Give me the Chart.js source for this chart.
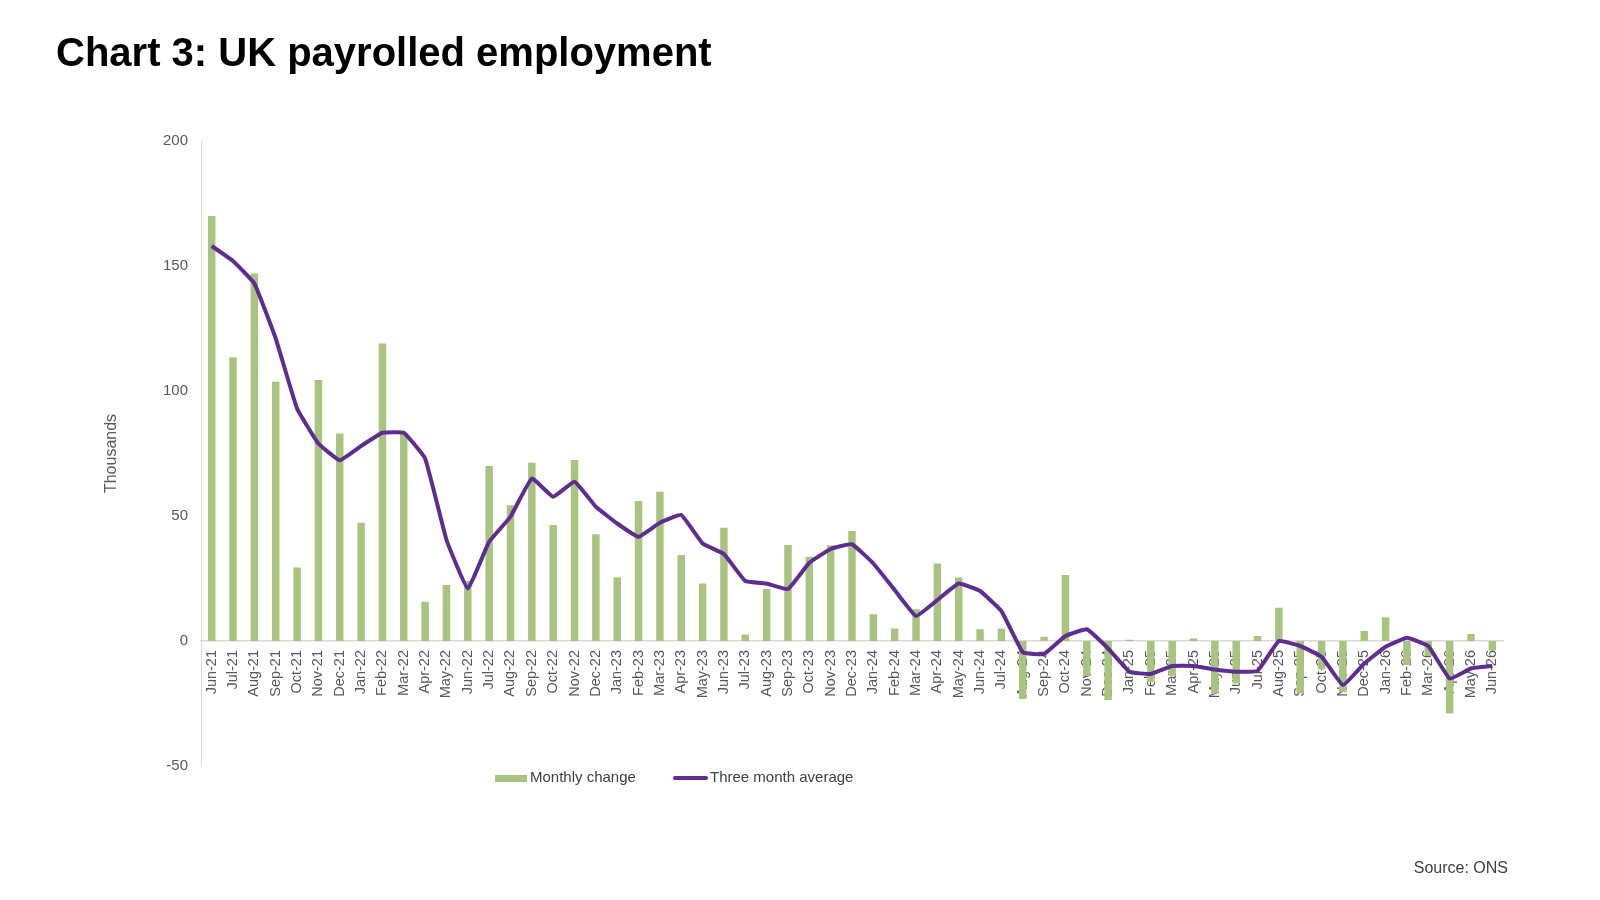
<!DOCTYPE html>
<html>
<head>
<meta charset="utf-8">
<title>Chart 3: UK payrolled employment</title>
<script src="https://cdn.jsdelivr.net/npm/chart.js@4/dist/chart.umd.min.js"></script>
<style>
  body { margin: 0; background: #fff; font-family: "Liberation Sans", Arial, sans-serif; }
  #wrap { position: relative; width: 1600px; height: 900px; overflow: hidden; }
  #chart { position: absolute; left: 0; top: 0; }
  .title { position: absolute; left: 56px; top: 32px; font-size: 40px; line-height: 40px; font-weight: bold; color: #000; white-space: nowrap; }
  .leg { position: absolute; font-size: 15px; line-height: 15px; color: #404040; white-space: nowrap; }
  .swatch { position: absolute; }
  .source { position: absolute; right: 92px; top: 860px; font-size: 16px; line-height: 16px; color: #404040; }
</style>
</head>
<body>
<div id="wrap">
  <canvas id="chart" width="1600" height="900"></canvas>
  <div class="title">Chart 3: UK payrolled employment</div>
  <div class="swatch" id="swBar" style="left:495px; top:775px; width:32px; height:7px;"></div>
  <div class="leg" style="left:530px; top:769px;">Monthly change</div>
  <div class="swatch" id="swLine" style="left:673px; top:776px; width:35px; height:4px; border-radius:2px;"></div>
  <div class="leg" style="left:710px; top:769px;">Three month average</div>
  <div class="source">Source: ONS</div>
</div>
<script>
// months on the x axis
const months = [
  "Jun-21", "Jul-21", "Aug-21", "Sep-21", "Oct-21", "Nov-21", "Dec-21",
  "Jan-22", "Feb-22", "Mar-22", "Apr-22", "May-22", "Jun-22", "Jul-22", "Aug-22", "Sep-22", "Oct-22", "Nov-22", "Dec-22",
  "Jan-23", "Feb-23", "Mar-23", "Apr-23", "May-23", "Jun-23", "Jul-23", "Aug-23", "Sep-23", "Oct-23", "Nov-23", "Dec-23",
  "Jan-24", "Feb-24", "Mar-24", "Apr-24", "May-24", "Jun-24", "Jul-24", "Aug-24", "Sep-24", "Oct-24", "Nov-24", "Dec-24",
  "Jan-25", "Feb-25", "Mar-25", "Apr-25", "May-25", "Jun-25", "Jul-25", "Aug-25", "Sep-25", "Oct-25", "Nov-25", "Dec-25",
  "Jan-26", "Feb-26", "Mar-26", "Apr-26", "May-26", "Jun-26"
];

// monthly change (thousands), bars
const monthlyChange = [
  170, 113.5, 147, 103.7, 29.4, 104.4, 83,
  47.3, 119, 83, 15.7, 22.4, 24, 70, 54.3, 71.3, 46.4, 72.4, 42.7,
  25.5, 56, 59.7, 34.4, 23, 45.3, 2.6, 20.8, 38.4, 33.7, 38.3, 44,
  10.7, 5, 12.7, 31, 25.4, 4.7, 5, -23.2, 1.7, 26.4, -14, -23.6,
  0.5, -16.5, -14, 1, -21, -17, 2, 13.3, -21, -11.3, -20.5, 4,
  9.5, -9.6, -6, -29, 2.8, -3.8
];

// three month average (thousands), line
const threeMonthAvg = [
  158, 152, 143, 121, 93, 79, 72.3,
  78, 83.3, 83.3, 73, 40.5, 21, 39.7, 49.7, 65, 57.7, 63.7, 53.7,
  47, 41.7, 47.3, 50.4, 39, 34.8, 24, 23, 20.8, 31.3, 36.8, 38.7,
  31, 20.4, 10, 16.4, 23, 20, 12, -4.5, -5.2, 2, 4.7, -3,
  -12.3, -13.2, -10, -10, -11.4, -12.3, -11.9, 0, -2, -6.3, -17.6, -9,
  -2.3, 1.3, -2, -15, -11, -10
];

// y axis ticks
const yMin = -50;
const yMax = 200;
const yStep = 50;

const barColor = "#A8C480";
const lineColor = "#5F2D91";
const tickColor = "#595959";
const axisColor = "#D9D9D9";

// legend swatches use the same colours
document.getElementById("swBar").style.background = barColor;
document.getElementById("swLine").style.background = lineColor;

const ctx = document.getElementById("chart").getContext("2d");
new Chart(ctx, {
  type: "bar",
  data: {
    labels: months,
    datasets: [
      {
        type: "line",
        label: "Three month average",
        data: threeMonthAvg,
        borderColor: lineColor,
        borderWidth: 4,
        pointRadius: 0,
        tension: 0.1,
        order: 0,
      },
      {
        type: "bar",
        label: "Monthly change",
        data: monthlyChange,
        backgroundColor: barColor,
        barPercentage: 0.35,
        categoryPercentage: 1,
        order: 1,
      },
    ],
  },
  options: {
    responsive: false,
    animation: false,
    layout: { padding: { left: 98, right: 97, top: 141, bottom: 134 } },
    plugins: {
      legend: { display: false },
      tooltip: { enabled: false },
    },
    scales: {
      x: {
        position: { y: 0 }, // axis sits on the zero line
        offset: true,
        grid: { display: false, drawTicks: false },
        border: { display: true, color: axisColor, width: 1.5 },
        ticks: {
          autoSkip: false,
          minRotation: 90,
          maxRotation: 90,
          padding: 9,
          color: tickColor,
          font: { family: "Liberation Sans, Arial", size: 14.5 },
        },
        afterFit: (scale) => { scale.height = 0; },
      },
      y: {
        min: yMin,
        max: yMax,
        grid: { display: false, drawTicks: false },
        border: { display: true, color: axisColor, width: 1 },
        ticks: {
          stepSize: yStep,
          padding: 13,
          color: tickColor,
          font: { family: "Liberation Sans, Arial", size: 15 },
        },
        title: {
          display: true,
          text: "Thousands",
          color: tickColor,
          font: { family: "Liberation Sans, Arial", size: 16 },
        },
        afterFit: (scale) => { scale.width = 103; },
      },
    },
  },
});
</script>
</body>
</html>
